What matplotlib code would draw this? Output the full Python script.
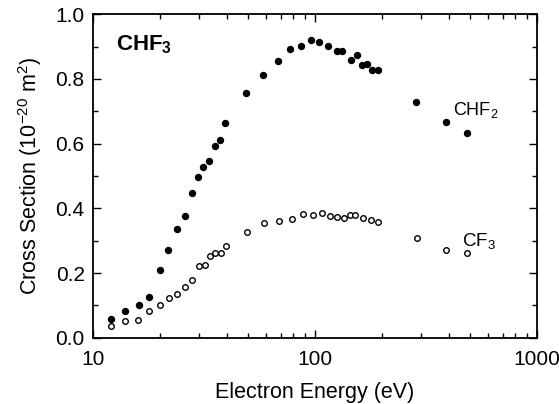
import matplotlib
matplotlib.use("Agg")
import matplotlib.pyplot as plt
from matplotlib.ticker import MultipleLocator, LogLocator, NullFormatter, FixedLocator, FixedFormatter

plt.rcParams['font.family'] = ['Liberation Sans', 'DejaVu Sans']
plt.rcParams['mathtext.fontset'] = 'custom'
plt.rcParams['mathtext.rm'] = 'Liberation Sans'
plt.rcParams['mathtext.bf'] = 'Liberation Sans:bold'

# CHF2 fragment (filled circles)
chf2_energy = [12.0, 14.0, 16.1, 17.9, 20.1, 21.8, 23.9, 25.9, 27.8, 29.6, 31.4, 33.4,
               35.4, 37.3, 39.2, 49.1, 58.4, 68.2, 77.3, 86.7, 95.8, 104, 115, 125,
               133, 145.5, 154, 162.5, 172, 181, 193, 286, 388, 486]
chf2_xsec = [0.057, 0.083, 0.101, 0.127, 0.208, 0.272, 0.336, 0.376, 0.448, 0.497, 0.527, 0.546,
             0.592, 0.611, 0.665, 0.756, 0.812, 0.855, 0.894, 0.902, 0.920, 0.914, 0.901, 0.888,
             0.888, 0.860, 0.873, 0.842, 0.846, 0.829, 0.829, 0.729, 0.666, 0.633]

# CF3 fragment (open circles)
cf3_energy = [12.0, 14.0, 15.9, 17.8, 20.1, 22.0, 24.0, 26.0, 27.9, 30.1, 31.8, 33.6,
              35.5, 37.7, 39.8, 49.6, 59.0, 68.7, 78.6, 88.6, 98, 107.4, 116.6, 126,
              135, 143.5, 152, 164.3, 178, 193, 287, 390, 484]
cf3_xsec = [0.035, 0.052, 0.056, 0.082, 0.100, 0.123, 0.136, 0.156, 0.180, 0.223, 0.224, 0.253,
            0.263, 0.262, 0.285, 0.328, 0.355, 0.361, 0.367, 0.383, 0.378, 0.385, 0.376, 0.372,
            0.371, 0.379, 0.380, 0.369, 0.364, 0.357, 0.308, 0.272, 0.262]

fig = plt.figure(figsize=(5.59, 4.04), dpi=100)
ax = fig.add_axes([0.1664, 0.164, 0.7942, 0.8006])

ax.plot(chf2_energy, chf2_xsec, 'o', color='black', markersize=4.3, linestyle='none')
ax.plot(cf3_energy, cf3_xsec, 'o', markerfacecolor='white', markeredgecolor='black',
        markeredgewidth=1.0, markersize=4.0, linestyle='none')

ax.set_xscale('log')
ax.set_xlim(10, 1000)
ax.set_ylim(0, 1.0)

ax.xaxis.set_major_locator(FixedLocator([10, 100, 1000]))
ax.xaxis.set_major_formatter(FixedFormatter(['10', '100', '1000']))
ax.xaxis.set_minor_locator(LogLocator(base=10, subs=range(2, 10)))
ax.xaxis.set_minor_formatter(NullFormatter())
ax.yaxis.set_major_locator(MultipleLocator(0.2))
ax.yaxis.set_minor_locator(MultipleLocator(0.1))
ax.yaxis.set_major_formatter(plt.FuncFormatter(lambda v, p: f"{v:.1f}"))

ax.tick_params(which='both', direction='in', top=True, right=True, labelsize=15, width=1.0)
ax.tick_params(which='major', length=6)
ax.tick_params(axis='x', which='major', pad=9)
ax.tick_params(axis='y', which='major', pad=6)
ax.tick_params(which='minor', length=3.5)
for s in ax.spines.values():
    s.set_linewidth(1.3)

ax.set_xlabel('Electron Energy (eV)', fontsize=15.5, labelpad=9)
ax.set_ylabel('Cross Section (10$^{-20}$ m$^2$)', fontsize=15.5, labelpad=8)

ax.text(0.052, 0.905, r'CHF$_\mathbf{3}$', transform=ax.transAxes, fontsize=16,
        fontweight='bold', va='center', ha='left')
ax.text(0.81, 0.705, 'CHF$_2$', transform=ax.transAxes, fontsize=13, va='center', ha='left')
ax.text(0.83, 0.295, 'CF$_3$', transform=ax.transAxes, fontsize=13.5, va='center', ha='left')

fig.savefig('out.png', dpi=100)
